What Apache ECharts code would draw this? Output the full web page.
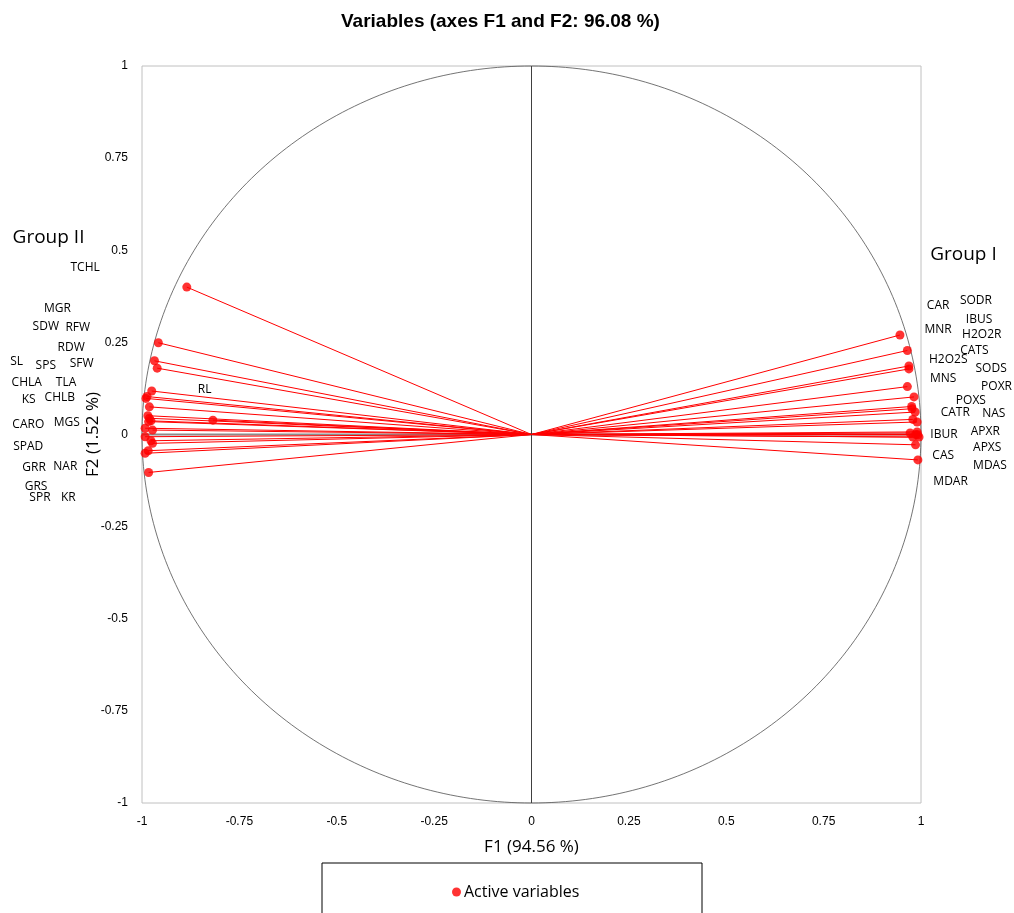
<!DOCTYPE html>
<html>
<head>
<meta charset="utf-8">
<script src="https://cdn.jsdelivr.net/npm/echarts@6/dist/echarts.min.js"></script>
<style>html,body{margin:0;padding:0;background:#fff;}#c{width:1014px;height:913px;}</style>
</head>
<body>
<div id="c"></div>
<script>
// Variable vectors (F1, F2 correlations)
const vecF1 = [-0.885,-0.958,-0.968,-0.961,-0.818,-0.975,-0.987,-0.990,-0.981,-0.985,-0.981,-0.977,-0.983,-0.992,-0.973,-0.992,-0.977,-0.973,-0.984,-0.992,-0.983,
  0.946,0.965,0.969,0.969,0.965,0.982,0.976,0.977,0.985,0.979,0.990,0.972,0.990,0.987,0.992,0.995,0.979,0.986,0.992];
const vecF2 = [0.400,0.249,0.200,0.180,0.039,0.118,0.103,0.098,0.075,0.051,0.044,0.037,0.035,0.017,0.012,-0.006,-0.017,-0.024,-0.044,-0.051,-0.103,
  0.270,0.228,0.186,0.178,0.130,0.102,0.076,0.070,0.061,0.041,0.034,0.004,0.007,0.000,-0.001,-0.007,-0.007,-0.028,-0.069];

// Variable labels and their anchor positions (axis units)
const labelNames = ['TCHL','MGR','SDW','RFW','RDW','SL','SPS','SFW','CHLA','TLA','KS','CHLB','CARO','MGS','SPAD','GRR','NAR','GRS','SPR','KR','RL',
  'CAR','SODR','IBUS','MNR','H2O2R','CATS','H2O2S','SODS','MNS','POXR','POXS','CATR','NAS','IBUR','APXR','APXS','CAS','MDAS','MDAR'];
const labelF1 = [-1.146,-1.217,-1.247,-1.165,-1.182,-1.322,-1.247,-1.155,-1.296,-1.195,-1.291,-1.211,-1.292,-1.193,-1.292,-1.277,-1.197,-1.272,-1.262,-1.189,-0.839,
  1.044,1.141,1.149,1.044,1.156,1.137,1.070,1.180,1.057,1.194,1.128,1.088,1.187,1.059,1.165,1.170,1.057,1.177,1.076];
const labelF2 = [0.453,0.341,0.292,0.290,0.237,0.197,0.188,0.192,0.142,0.142,0.094,0.100,0.028,0.033,-0.033,-0.089,-0.087,-0.142,-0.170,-0.170,0.123,
  0.350,0.364,0.311,0.284,0.271,0.229,0.202,0.180,0.153,0.130,0.092,0.060,0.058,0.001,0.009,-0.035,-0.058,-0.084,-0.128];

const groupNames = ['Group II','Group I'];
const groupF1 = [-1.240, 1.109];
const groupF2 = [0.533, 0.487];

const axisTicks = [-1,-0.75,-0.5,-0.25,0,0.25,0.5,0.75,1];
const titleText = 'Variables (axes F1 and F2: 96.08 %)';
const xName = 'F1 (94.56 %)';
const yName = 'F2 (1.52 %)';
const seriesName = 'Active variables';

const points = vecF1.map((x,i)=>[x, vecF2[i]]);
const labels = labelNames.map((n,i)=>[labelF1[i], labelF2[i], n]);
const groups = groupNames.map((n,i)=>[groupF1[i], groupF2[i], n]);

const chart = echarts.init(document.getElementById('c'));
const tickFont = "'Liberation Sans Narrow','Arial Narrow','Liberation Sans',sans-serif";
const textFont = "'Open Sans','Noto Sans',sans-serif";

chart.setOption({
  animation:false,
  backgroundColor:'#fff',
  title:{text:titleText,left:336,top:7,textStyle:{fontFamily:"'Liberation Sans',Arial,sans-serif",fontSize:19,fontWeight:'bold',color:'#000'}},
  grid:{left:142,right:93,top:66,bottom:110,show:true,borderColor:'#c0c0c0',borderWidth:1},
  legend:{data:[{name:seriesName,icon:'circle'}],left:447,top:879,itemWidth:9,itemHeight:9,itemGap:4,
    textStyle:{fontFamily:textFont,fontSize:16,color:'#000',padding:[0,0,0,-2]}},
  graphic:[{type:'rect',shape:{x:322,y:863,width:380,height:60},style:{fill:'none',stroke:'#000',lineWidth:1},z:10}],
  xAxis:{type:'value',min:-1,max:1,interval:0.25,
    axisLine:{show:false,onZero:false},axisTick:{show:false},splitLine:{show:false},
    axisLabel:{margin:13,fontFamily:tickFont,fontSize:12,color:'#000',formatter:v=>String(v)},
    name:xName,nameLocation:'middle',nameGap:36,nameMoveOverlap:false,nameTextStyle:{fontFamily:textFont,fontSize:17,color:'#000'}},
  yAxis:{type:'value',min:-1,max:1,interval:0.25,
    axisLine:{show:false,onZero:false},axisTick:{show:false},splitLine:{show:false},
    axisLabel:{margin:14,fontFamily:tickFont,fontSize:12,color:'#000',formatter:v=>String(v)},
    name:yName,nameLocation:'middle',nameGap:40,nameRotate:90,nameMoveOverlap:false,nameTextStyle:{fontFamily:textFont,fontSize:17,color:'#000'}},
  series:[
    { // unit circle and zero axes
      type:'custom',silent:true,z:1,data:[[0,0]],
      renderItem:(params,api)=>{
        const pts=[];
        for(let a=0;a<=360;a+=1){const r=a*Math.PI/180;pts.push(api.coord([Math.cos(r),Math.sin(r)]));}
        return {type:'group',children:[
          {type:'polyline',shape:{points:pts},style:{fill:'none',stroke:'#505050',lineWidth:0.8}},
          {type:'line',shape:{x1:api.coord([-1,0])[0],y1:api.coord([-1,0])[1],x2:api.coord([1,0])[0],y2:api.coord([1,0])[1]},style:{stroke:'#8c8c8c',lineWidth:2}},
          {type:'line',shape:{x1:api.coord([0,-1])[0],y1:api.coord([0,-1])[1],x2:api.coord([0,1])[0],y2:api.coord([0,1])[1]},style:{stroke:'#404040',lineWidth:1}}
        ]};
      }
    },
    { // vectors
      type:'custom',silent:true,z:2,data:points,
      renderItem:(params,api)=>{
        const o=api.coord([0,0]);const p=api.coord([api.value(0),api.value(1)]);
        return {type:'line',shape:{x1:o[0],y1:o[1],x2:p[0],y2:p[1]},style:{stroke:'#ff0000',lineWidth:1}};
      }
    },
    {name:seriesName,type:'scatter',z:3,data:points,symbol:'circle',symbolSize:9,itemStyle:{color:'#ff0000'}},
    { // variable labels
      type:'custom',silent:true,z:4,data:labels,
      renderItem:(params,api)=>{
        const p=api.coord([api.value(0),api.value(1)]);
        return {type:'text',x:p[0],y:p[1],style:{text:labels[params.dataIndex][2],fill:'#000',font:"12px 'Open Sans','Noto Sans',sans-serif",align:'center',verticalAlign:'middle'}};
      }
    },
    { // group labels
      type:'custom',silent:true,z:4,data:groups,
      renderItem:(params,api)=>{
        const p=api.coord([api.value(0),api.value(1)]);
        return {type:'text',x:p[0],y:p[1],style:{text:groups[params.dataIndex][2],fill:'#000',font:"19px 'Open Sans','Noto Sans',sans-serif",align:'center',verticalAlign:'middle'}};
      }
    }
  ]
});
</script>
</body>
</html>
